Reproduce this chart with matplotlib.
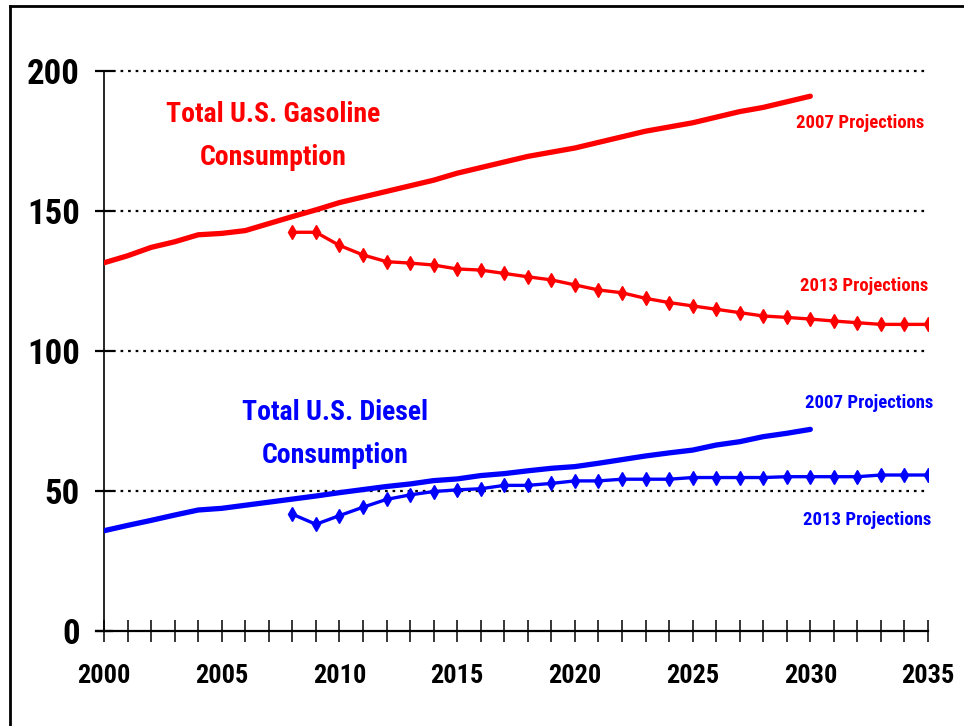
import numpy as np
import matplotlib.pyplot as plt
from matplotlib.lines import Line2D

plt.rcParams['font.family'] = ['Roboto Condensed', 'PT Sans Narrow', 'DejaVu Sans']
plt.rcParams['font.weight'] = 'bold'

# 2007 projections, 2000-2030
years_2007 = list(range(2000, 2031))
gas_2007 = [131.5, 134, 137, 139, 141.5, 142, 143, 145.5, 148, 150.4,
            153, 155, 157, 159, 161, 163.5, 165.5, 167.5, 169.5, 171, 172.5,
            174.5, 176.5, 178.5, 180, 181.5, 183.5, 185.5, 187, 189, 191]
diesel_2007 = [35.8, 37.7, 39.5, 41.4, 43.2, 43.8, 44.9, 46, 47.1, 48.2,
               49.4, 50.5, 51.6, 52.5, 53.7, 54.3, 55.5, 56.2, 57.2, 58.1,
               58.7, 59.9, 61.2, 62.5, 63.6, 64.6, 66.4, 67.6, 69.4, 70.6, 72]

# 2013 projections, 2008-2035
years_2013 = list(range(2008, 2036))
gas_2013 = [142.4, 142.4, 137.7, 134.3, 131.9, 131.4, 130.7, 129.3, 128.9,
            127.7, 126.5, 125.4, 123.6, 121.8, 120.8, 118.8, 117.3, 116.1,
            114.9, 113.7, 112.5, 112.0, 111.4, 110.7, 110.1, 109.5, 109.5, 109.5]
diesel_2013 = [41.7, 38.1, 41.2, 44.2, 47.0, 48.6, 49.8, 50.4, 50.8, 52.0,
               52.0, 52.7, 53.6, 53.6, 54.2, 54.2, 54.2, 54.8, 54.8, 54.8,
               54.8, 55.1, 55.1, 55.1, 55.1, 55.7, 55.7, 55.7]

red = '#FF0000'
blue = '#0000FF'

fig = plt.figure(figsize=(9.64, 7.26), dpi=100)
ax = fig.add_axes([0.1079, 0.1309, 0.8548, 0.7713])

# grid lines (dotted) at 50..200
for v in [50, 100, 150, 200]:
    ax.plot([2000.4, 2035], [v, v], color='black', lw=1.6,
            linestyle=(0, (1.2, 2.2)), zorder=1, clip_on=False)

ax.plot(years_2007, gas_2007, color=red, lw=3.8, solid_capstyle='round', zorder=3)
ax.plot(years_2007, diesel_2007, color=blue, lw=3.8, solid_capstyle='round', zorder=3)
ax.plot(years_2013, gas_2013, color=red, lw=2.4, marker='d', markersize=7.5, zorder=4)
ax.plot(years_2013, diesel_2013, color=blue, lw=2.4, marker='d', markersize=7.5, zorder=4)

ax.set_xlim(2000, 2035)
ax.set_ylim(0, 200)
for s in ['top', 'right']:
    ax.spines[s].set_visible(False)
ax.spines['left'].set_linewidth(1.2)
ax.spines['bottom'].set_linewidth(1.6)
ax.spines['bottom'].set_bounds(1999.65, 2035)

ax.set_xticks(range(2000, 2036))
ax.set_xticklabels([str(y) if y % 5 == 0 else '' for y in range(2000, 2036)])
ax.set_yticks([0, 50, 100, 150, 200])
ax.tick_params(axis='x', direction='inout', length=16, width=1.1, pad=16,
               labelsize=19)
ax.tick_params(axis='y', direction='inout', length=13, width=1.6, pad=11,
               labelsize=25)
for lab in ax.get_xticklabels() + ax.get_yticklabels():
    lab.set_fontweight('bold')

# series labels
ax.text(2007.2, 184.6, 'Total U.S. Gasoline', color=red, fontsize=20,
        fontweight='bold', ha='center', va='center')
ax.text(2007.2, 169, 'Consumption', color=red, fontsize=20,
        fontweight='bold', ha='center', va='center')
ax.text(2009.8, 78.2, 'Total U.S. Diesel', color=blue, fontsize=20,
        fontweight='bold', ha='center', va='center')
ax.text(2009.8, 62.5, 'Consumption', color=blue, fontsize=20,
        fontweight='bold', ha='center', va='center')

ax.text(2032.1, 181.4, '2007 Projections', color=red, fontsize=13.5,
        fontweight='bold', ha='center', va='center')
ax.text(2032.3, 123.2, '2013 Projections', color=red, fontsize=13.5,
        fontweight='bold', ha='center', va='center')
ax.text(2032.5, 81.4, '2007 Projections', color=blue, fontsize=13.5,
        fontweight='bold', ha='center', va='center')
ax.text(2032.4, 39.6, '2013 Projections', color=blue, fontsize=13.5,
        fontweight='bold', ha='center', va='center')

# outer frame (top and left edges only)
fig.add_artist(Line2D([9.5 / 964, 1], [1 - 5.5 / 726, 1 - 5.5 / 726],
                      color='black', lw=2, transform=fig.transFigure))
fig.add_artist(Line2D([9.5 / 964, 9.5 / 964], [0, 1 - 5.5 / 726],
                      color='black', lw=2, transform=fig.transFigure))

fig.savefig('out.png', dpi=100)
